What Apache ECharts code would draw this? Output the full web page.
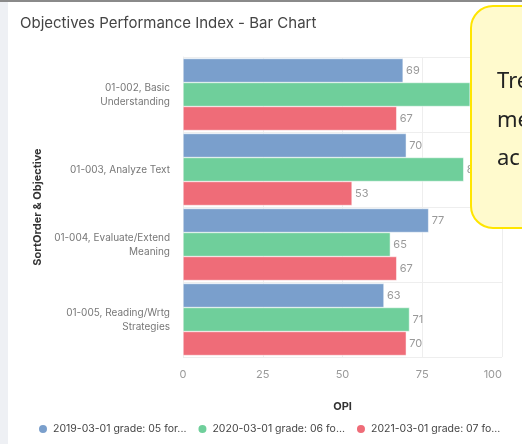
<!DOCTYPE html>
<html>
<head>
<meta charset="utf-8">
<script src="https://cdn.jsdelivr.net/npm/echarts@6/dist/echarts.min.js"></script>
<style>
  html, body { margin: 0; padding: 0; background: #fff; }
  #chart { width: 522px; height: 444px; }
</style>
</head>
<body>
<div id="chart"></div>
<script>
var categories = [
  "01-002, Basic\nUnderstanding",
  "01-003, Analyze Text",
  "01-004, Evaluate/Extend\nMeaning",
  "01-005, Reading/Wrtg\nStrategies"
];
var seriesNames = [
  "2019-03-01 grade: 05 for...",
  "2020-03-01 grade: 06 fo...",
  "2021-03-01 grade: 07 fo..."
];
var values2019 = [69, 70, 77, 63];
var values2020 = [90, 88, 65, 71];
var values2021 = [67, 53, 67, 70];
var xTicks = [0, 25, 50, 75, 100];
var colors = ["#7a9fcc", "#6fcf9b", "#ef6c78"];

var chartDom = document.getElementById("chart");
var myChart = echarts.init(chartDom);
var font = "Inter, 'Noto Sans', sans-serif";

function makeSeries(name, data, color) {
  return {
    name: name,
    type: "bar",
    data: data,
    barGap: "0%",
    barCategoryGap: "4%",
    itemStyle: { color: color, borderColor: "#fff", borderWidth: 0.5 },
    label: {
      show: true,
      position: "right",
      distance: 3,
      color: "#999",
      fontSize: 11,
      fontFamily: font
    }
  };
}

var option = {
  backgroundColor: "#fff",
  animation: false,
  color: colors,
  title: {
    text: "Objectives Performance Index - Bar Chart",
    left: 15,
    top: 11,
    textStyle: { fontSize: 15, fontWeight: "normal", color: "#444", fontFamily: font }
  },
  grid: { left: 183, right: 20, top: 57, bottom: 87 },
  legend: {
    left: 32,
    top: 418,
    icon: "circle",
    itemWidth: 10,
    itemHeight: 10,
    itemGap: 10,
    textStyle: { fontSize: 10.5, color: "#444", fontFamily: font }
  },
  xAxis: {
    type: "value",
    min: xTicks[0],
    max: xTicks[xTicks.length - 1],
    interval: 25,
    name: "OPI",
    nameLocation: "middle",
    nameGap: 44,
    nameTextStyle: { fontSize: 11, fontWeight: "bold", color: "#333", fontFamily: font },
    axisLine: { show: false },
    axisTick: { show: false },
    axisLabel: { color: "#999", fontSize: 11, margin: 12, alignMaxLabel: "right", fontFamily: font },
    splitLine: { show: true, lineStyle: { color: "#eee" } }
  },
  yAxis: {
    type: "category",
    data: categories,
    inverse: true,
    name: "SortOrder & Objective",
    nameLocation: "middle",
    nameGap: 131,
    nameTextStyle: { fontSize: 11, fontWeight: "bold", color: "#333", fontFamily: font },
    axisLine: { show: true, lineStyle: { color: "#eee" } },
    axisTick: { show: false },
    axisLabel: { color: "#777", fontSize: 10, margin: 13, lineHeight: 14, fontFamily: font },
    splitLine: { show: true, lineStyle: { color: "#eee" } }
  },
  series: [
    makeSeries(seriesNames[0], values2019, colors[0]),
    makeSeries(seriesNames[1], values2020, colors[1]),
    makeSeries(seriesNames[2], values2021, colors[2])
  ],
  graphic: [
    { type: "rect", shape: { x: 0, y: 0, width: 8, height: 444 }, style: { fill: "#eef0f4" }, z: 100 },
    { type: "rect", shape: { x: 0, y: 0, width: 522, height: 2 }, style: { fill: "#8a8a8a" }, z: 100 },
    {
      type: "rect",
      shape: { x: 471, y: 6, width: 90, height: 222, r: 22 },
      style: { fill: "#fffacd", stroke: "#ffe500", lineWidth: 2 },
      z: 100
    },
    { type: "text", x: 497, y: 82, style: { text: "Tre", fontSize: 22, fill: "#222", fontFamily: "'Noto Sans', sans-serif", verticalAlign: "middle" }, z: 101 },
    { type: "text", x: 497, y: 121, style: { text: "me", fontSize: 22, fill: "#222", fontFamily: "'Noto Sans', sans-serif", verticalAlign: "middle" }, z: 101 },
    { type: "text", x: 497, y: 159, style: { text: "ac", fontSize: 22, fill: "#222", fontFamily: "'Noto Sans', sans-serif", verticalAlign: "middle" }, z: 101 }
  ]
};

option && myChart.setOption(option);
</script>
</body>
</html>
